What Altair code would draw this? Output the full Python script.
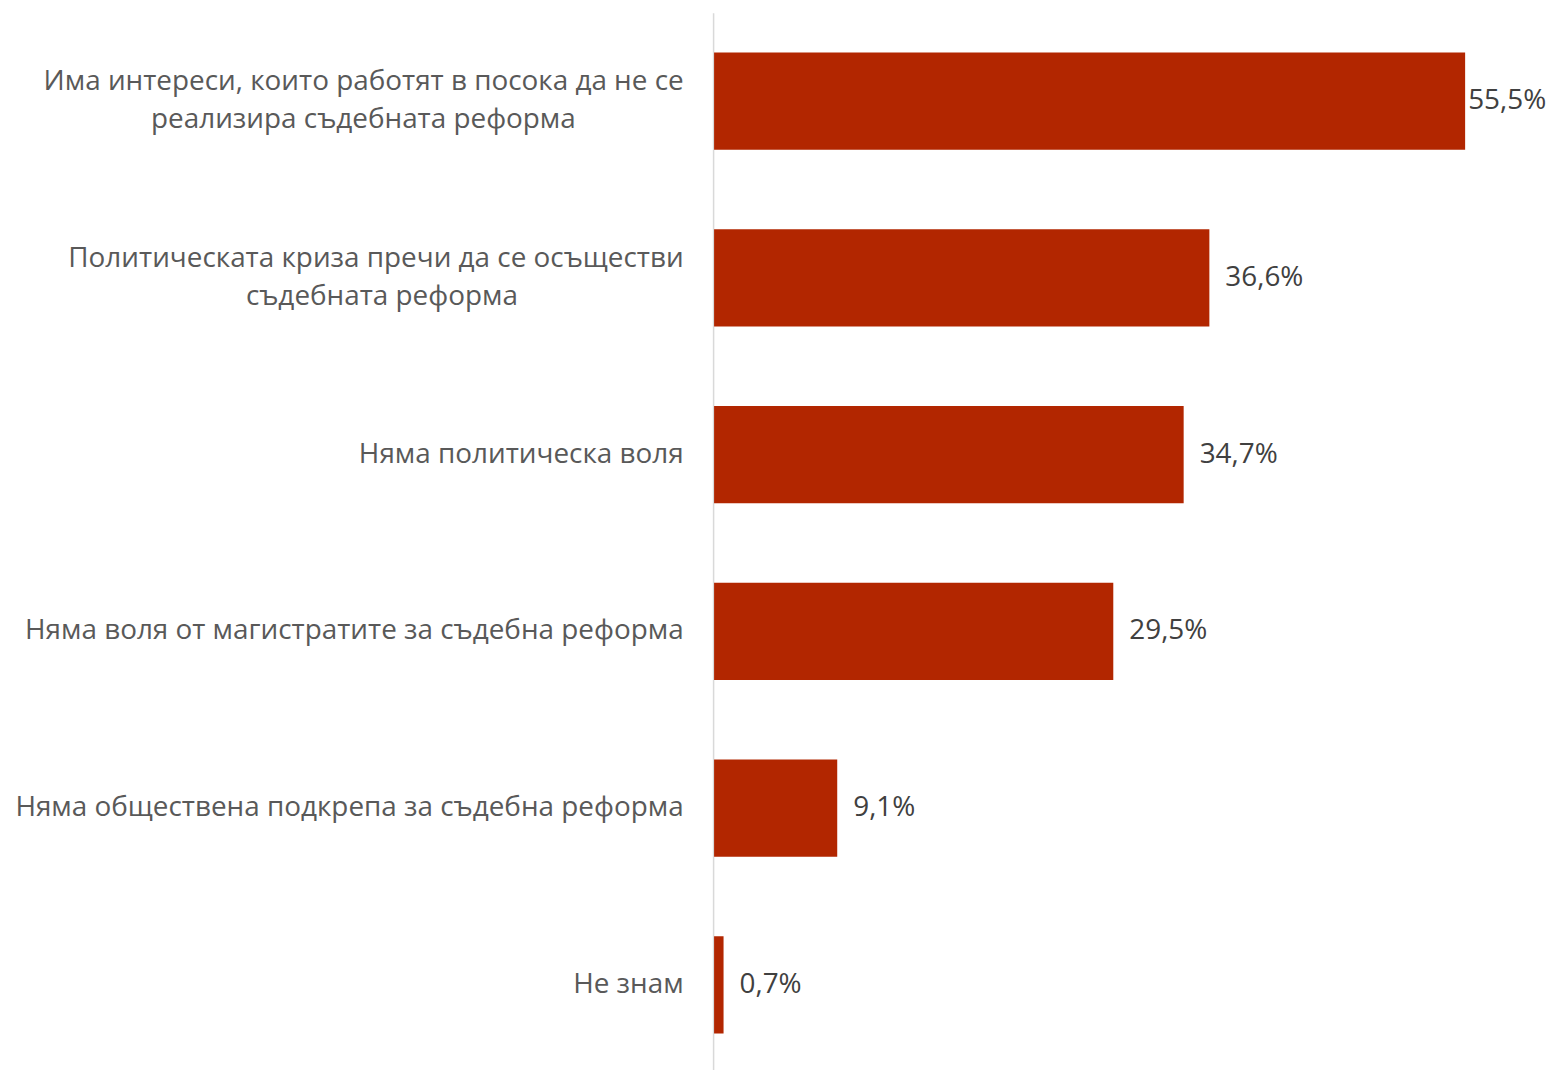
import altair as alt
import pandas as pd

NB = "\u00a0"
BB = "\u2800"
categories = [
    ["Има интереси, които работят в посока да не се", "реализира съдебната реформа" + NB * 12 + BB],
    ["Политическата криза пречи да се осъществи", "съдебната реформа" + NB * 20 + BB],
    ["Няма политическа воля"],
    ["Няма воля от магистратите за съдебна реформа"],
    ["Няма обществена подкрепа за съдебна реформа"],
    ["Не знам"],
]
values = [55.5, 36.6, 34.7, 29.5, 9.1, 0.7]
value_labels = ["55,5%", "36,6%", "34,7%", "29,5%", "9,1%", "0,7%"]

keys = ["c%d" % i for i in range(len(values))]

df = pd.DataFrame({"key": keys, "value": values, "label": value_labels,
                   "first": [i == 0 for i in range(len(values))]})

parts = []
for k, c in zip(keys, categories):
    arr = "[" + ",".join("'" + s + "'" for s in c) + "]"
    parts.append("datum.value === '%s' ? %s" % (k, arr))
label_expr = " : ".join(parts) + " : ''"

multi = [k for k, c in zip(keys, categories) if len(c) > 1]
multi_test = "indexof([" + ",".join("'%s'" % k for k in multi) + "], datum.value) >= 0"

FONT = "Open Sans"
FS = 27.9

y = alt.Y("key:N", sort=keys, title=None,
          scale=alt.Scale(paddingInner=0.45, paddingOuter=0.225),
          axis=alt.Axis(labelExpr=label_expr, labelFont=FONT, labelFontSize=FS,
                        labelColor="#595959", labelPadding=30, ticks=False,
                        domainColor="#D9D9D9", domainWidth=1.5,
                        labelLineHeight=38, minExtent=706, maxExtent=706,
                        labelOffset={"condition": {"test": multi_test, "value": -19}, "value": 0},
                        labelLimit=0))
x = alt.X("value:Q", title=None, scale=alt.Scale(domain=[0, 60], nice=False),
          axis=None)

bars = alt.Chart(df).mark_bar(color="#B22600", xOffset=1).encode(x=x, y=y)

txt_first = alt.Chart(df).transform_filter("datum.first").mark_text(
    align="left", baseline="middle", dx=4, font=FONT, fontSize=FS, color="#404040"
).encode(x=x, y=y, text="label:N")

txt_rest = alt.Chart(df).transform_filter("!datum.first").mark_text(
    align="left", baseline="middle", dx=17, font=FONT, fontSize=FS, color="#404040"
).encode(x=x, y=y, text="label:N")

chart = (bars + txt_first + txt_rest).properties(
    width=813, height=1062,
    padding={"top": 4, "left": 0, "right": 0, "bottom": 0},
).configure_view(strokeWidth=0, stroke=None)

chart.save("out.html", embed_options={"renderer": "svg", "actions": False})
